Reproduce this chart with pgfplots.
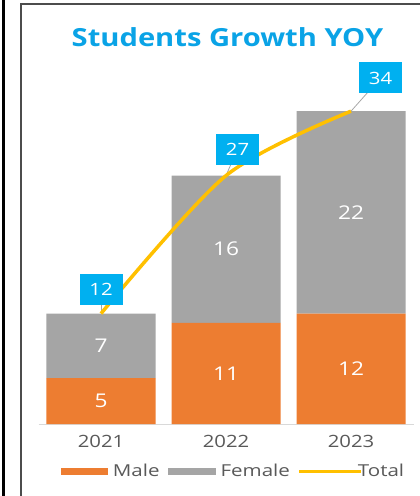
\documentclass[border=0pt]{standalone}
\usepackage{fontspec}
\setmainfont{Open Sans}
\usepackage{graphicx}
\usepackage{pgfplots}
\usepackage{pgfplotstable}
\pgfplotsset{compat=1.18}

\definecolor{male}{HTML}{ED7D31}
\definecolor{female}{HTML}{A5A5A5}
\definecolor{total}{HTML}{FFC000}
\definecolor{lblue}{HTML}{00B0F0}
\definecolor{ttl}{HTML}{0AA3E6}
\definecolor{txt}{HTML}{595959}
% text in the reference is stretched sideways
\newcommand\sx[1]{\scalebox{1.2}[1]{#1}}
\newcommand\lx[1]{\scalebox{1.25}[1]{#1}}

\pgfplotstableread{
x male female total
0 5  7  12
1 11 16 27
2 12 22 34
}\students

% where the total labels sit (axis units), u/v = leader line from point
\pgfplotstableread{
x y  u     v    lx    ly
0 12 0     2.67 0     14.67
1 27 0.092 2.89 1.092 29.89
2 34 0.236 3.61 2.236 37.61
}\labelpos

\pgfplotsset{
    chartbox/.style={
        at={(38.5bp,-424bp)}, anchor=south west,
        scale only axis, width=375bp, height=368bp,
        xmin=-0.5, xmax=2.5, ymin=0, ymax=40,
        clip=false,
        /pgf/number format/assume math mode=true,
    },
}

\begin{document}
\begin{tikzpicture}
\path[use as bounding box] (0,0) rectangle (420bp,-496bp);
\draw[black, line width=3bp] (3bp,0) -- (3bp,-496bp);
\draw[black!70, line width=1.5bp] (21bp,-496bp) -- (21bp,-4bp) -- (420bp,-4bp);
\node[text=ttl, font=\fontsize{25}{30}\selectfont\bfseries] at (227.5bp,-37bp)
    {\scalebox{1.17}[1]{Students Growth YOY}};

% stacked bars
\begin{axis}[
    chartbox,
    ybar stacked, bar width=109bp,
    axis y line=none,
    axis x line*=bottom,
    x axis line style={-, draw=black!15, line width=1bp},
    xtick={0,1,2},
    xticklabels={\sx{2021},\sx{2022},\sx{2023}},
    major tick length=0,
    xticklabel style={text=txt, font=\fontsize{17}{20}\selectfont, yshift=-8bp},
    nodes near coords={\sx{\pgfmathprintnumber{\pgfplotspointmeta}}},
    point meta=explicit,
    every node near coord/.append style={anchor=center, text=white,
        font=\fontsize{19}{22}\selectfont},
    legend columns=3,
    legend style={at={(0.52,-0.128)}, anchor=center, draw=none, fill=none,
        text=txt, font=\fontsize{16.5}{18}\selectfont,
        /tikz/every odd column/.append style={column sep=3bp},
        /tikz/every even column/.append style={column sep=6bp}},
]
\addplot[fill=male, draw=none,
    legend image code/.code={\fill[male] (0bp,-3.5bp) rectangle (47bp,3.5bp);}]
    table[x=x, y=male, meta=male] {\students};
\addplot[fill=female, draw=none,
    legend image code/.code={\fill[female] (0bp,-3.5bp) rectangle (48bp,3.5bp);}]
    table[x=x, y=female, meta=female] {\students};
\addlegendimage{legend image code/.code={%
    \draw[total, line width=3bp] (0bp,0bp) -- (52bp,0bp);
    \draw[total, line width=3bp, overlay] (52bp,0bp) -- (62bp,0bp);}}
\legend{\lx{Male},\lx{Female},\lx{Total}}
\end{axis}

% total line with its labels
\begin{axis}[chartbox, hide axis]
\addplot[draw=black!35, line width=0.8bp, -,
    quiver={u=\thisrow{u}, v=\thisrow{v}}]
    table[x=x, y=y] {\labelpos};
\addplot[smooth, draw=total, line width=3.5bp, mark=none]
    table[x=x, y=total] {\students};
\addplot[draw=none, mark=none,
    point meta=explicit,
    nodes near coords={\sx{\pgfmathprintnumber{\pgfplotspointmeta}}},
    every node near coord/.append style={anchor=center, fill=lblue, text=white,
        minimum width=43bp, minimum height=31bp, inner sep=0pt,
        font=\fontsize{17}{20}\selectfont}]
    table[x=lx, y=ly, meta=y] {\labelpos};
\end{axis}
\end{tikzpicture}
\end{document}
